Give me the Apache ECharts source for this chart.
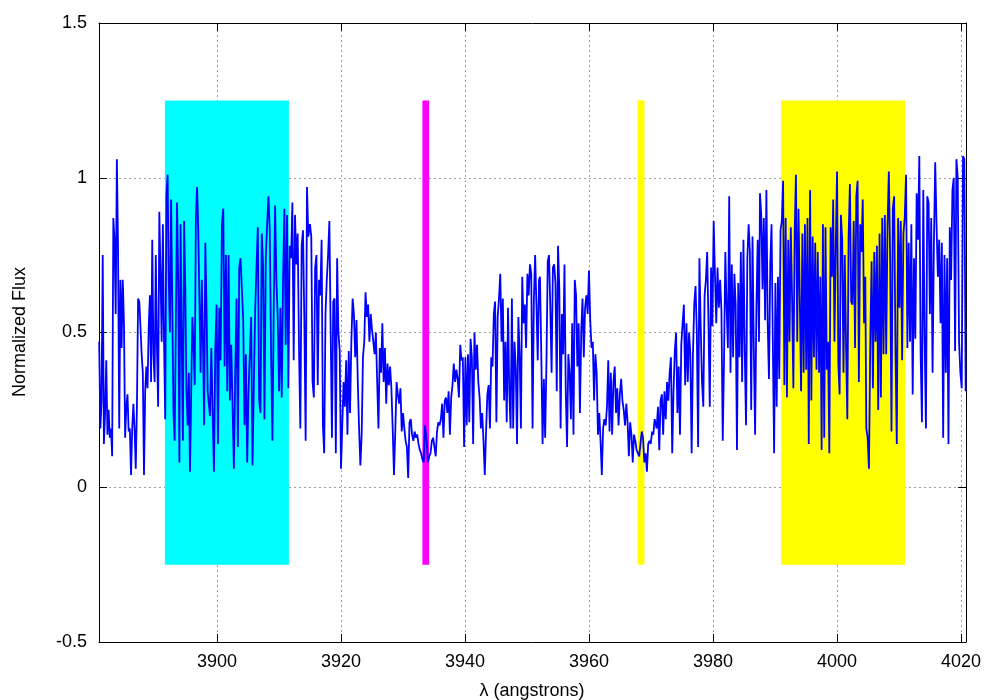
<!DOCTYPE html>
<html><head><meta charset="utf-8">
<script src="https://cdn.jsdelivr.net/npm/echarts@6/dist/echarts.min.js"></script>
<style>html,body{margin:0;padding:0;background:#fff}#c{width:1000px;height:700px}</style>
</head><body><div id="c"></div>
<script>
// ---- data ----
const xTicks = [3900, 3920, 3940, 3960, 3980, 4000, 4020];
const xMin = 3880.97, xMax = 4020.81;
// spectrum segments: wavelength span of each segment and the flux samples in it
const segStart = [3881.0, 3898.87, 3915.0, 3933.82, 3952.1, 3970.92, 3987.58, 4004.73];
const segEnd   = [3898.5, 3914.73, 3933.55, 3951.94, 3970.59, 3987.42, 4004.57, 4020.76];
const flux1 = [.47,.19,.28,.75,.14,.24,.41,.17,.25,.16,.19,.10,.87,.80,.56,1.06,.77,.19,.67,.45,
 .67,.53,.16,.26,.30,.18,.19,.04,.19,.27,.19,.06,.26,.61,.60,.52,.43,.37,.04,.31,
 .39,.32,.52,.62,.34,.80,.43,.34,.75,.45,.26,.89,.69,.47,.85,.47,.22,.94,1.01,.67,
 .50,.93,.58,.24,.15,.52,.92,.67,.08,.85,.47,.15,.86,.64,.31,.20,.37,.05,.30,.55,
 .46,.33,.87,.97,.83,.60,.37,.67,.47,.20,.79,.58,.31];
const flux2 = [.23,.45,.24,.05,.45,.59,.14,.58,.41,.85,.90,.39,.75,.31,.75,.28,.46,.26,.06,.37,
 .61,.13,.71,.74,.64,.54,.20,.43,.08,.31,.43,.55,.07,.33,.57,.71,.84,.28,.24,.82,
 .71,.22,.74,.85,.94,.83,.43,.15,.58,.91,.66,.55,.31,.58,.29,.67,.90,.46,.88,.32,
 .78,.74,.92,.41,.88,.72,.82,.45,.19,.78,.83,.54,.15,.97,.81];
const flux3 = [.85,.81,.34,.29,.71,.75,.33,.67,.62,.80,.20,.11,.56,.67,.75,.86,.51,.16,.60,.61,
 .11,.74,.50,.44,.06,.20,.34,.26,.41,.17,.44,.24,.47,.61,.56,.42,.54,.34,.19,.07,
 .17,.42,.47,.63,.55,.59,.47,.56,.51,.51,.43,.50,.34,.19,.45,.37,.53,.34,.45,.27,
 .40,.33,.39,.32,.19,.04,.18,.34,.30,.27,.32,.18,.24,.19,.15,.13,.03,.21,.22,.17,
 .15,.18,.16,.17,.14,.12,.11,.09,.08,.20];
const flux4 = [.15,.08,.10,.11,.15,.16,.16,.10,.18,.21,.20,.22,.27,.16,.28,.29,.24,.31,.17,.29,
 .33,.40,.34,.38,.35,.29,.46,.41,.42,.13,.42,.20,.43,.21,.48,.42,.14,.50,.38,.46,
 .34,.29,.19,.24,.15,.04,.18,.30,.33,.19,.42,.39,.56,.60,.21,.55,.61,.69,.47,.61,
 .28,.47,.21,.58,.31,.19,.61,.19,.47,.39,.14,.55,.43,.19,.68,.53,.59,.45,.69,.62,
 .72,.69,.19,.60,.75,.59,.41,.67];
const flux5 = [.68,.43,.14,.35,.16,.40,.73,.75,.58,.37,.71,.72,.66,.31,.78,.64,.19,.56,.43,.72,
 .31,.13,.43,.37,.22,.53,.17,.67,.62,.39,.53,.24,.50,.61,.42,.58,.62,.56,.70,.54,
 .45,.47,.28,.43,.37,.17,.24,.15,.04,.19,.22,.20,.26,.41,.18,.37,.17,.34,.39,.24,
 .32,.20,.30,.35,.28,.25,.20,.27,.21,.10,.21,.17,.08,.17,.15,.12,.11,.10,.10,.18,
 .16,.08,.11,.05,.14,.15,.14,.18,.17,.22];
const flux6 = [.19,.26,.12,.28,.30,.17,.31,.22,.34,.28,.37,.42,.11,.31,.44,.50,.24,.39,.17,.46,
 .53,.59,.33,.53,.34,.50,.43,.11,.43,.59,.65,.50,.13,.74,.52,.34,.26,.62,.67,.76,
 .53,.26,.71,.52,.86,.69,.53,.71,.58,.67,.57,.15,.41,.76,.58,.45,.94,.37,.72,.42,
 .69,.59,.12,.66,.42,.76,.34,.80,.44,.20,.74,.85,.76,.25,.81,.45,.17,.58,.80,.47];
const flux7 = [.95,.88,.64,.87,.54,.96,.53,.35,.72,.85,.47,.11,.66,.26,.68,.35,.83,.86,.99,.33,
 .87,.29,.80,.47,.84,.61,.32,.82,1.01,.47,.90,.61,.31,.82,.37,.85,.38,.87,.14,.96,
 .28,.81,.42,.79,.38,.76,.37,.68,.12,.85,.16,.84,.38,.47,.11,.84,.68,.93,.47,.78,
 1.02,.40,.30,.88,.80,.37,.75,.46,.22,.81,.98,.60,.59,.86,.45,.94,.99,.34,.85,.76,
 .93,.53,.68];
const flux8 = [.19,.16,.06,.47,.73,.32,.76,.47,.78,.25,.82,.29,.87,.43,.88,.43,.84,1.02,.74,.18,
 .90,.94,.45,.14,.87,.58,.86,.41,.82,.87,1.01,.45,.79,.47,.85,.30,.74,.48,.95,.80,
 1.07,.43,.21,.96,.49,.19,.94,.92,.56,.87,.37,.78,1.05,.85,.68,.80,.53,.79,.16,.75,
 .37,.74,.14,.84,.67,.96,1.00,.44,1.06,1.00,.47,.37,.32,1.07,1.06,.31];
// bandpasses: [lambda from, lambda to, flux bottom, flux top]
const bandLo  = [3891.6, 3933.13, 3967.85, 3991.0];
const bandHi  = [3911.6, 3934.22, 3968.94, 4011.0];
const bandBot = [-0.25, -0.25, -0.25, -0.25];
const bandTop = [1.25, 1.25, 1.25, 1.25];
const bandColor = ['#00ffff', '#ff00ff', '#ffff00', '#ffff00'];

// ---- build ----
const fluxSegs = [flux1, flux2, flux3, flux4, flux5, flux6, flux7, flux8];
const spectrum = [];
fluxSegs.forEach((arr, s) => {
  const n = arr.length;
  for (let i = 0; i < n; i++) {
    spectrum.push([segStart[s] + i * (segEnd[s] - segStart[s]) / (n - 1), arr[i]]);
  }
});
const bands = bandLo.map((v, i) => [v, bandHi[i], bandBot[i], bandTop[i]]);

const FONT = '"Liberation Sans", Arial, Helvetica, sans-serif';
const FS = 18;
const gridStyle = { color: '#a0a0a0', width: 1, type: [2, 3] };
const axisBase = {
  type: 'value', min: xMin, max: xMax,
  axisLine: { show: true, onZero: false, lineStyle: { color: '#000', width: 1 } },
  axisTick: { show: true, inside: true, length: 8, customValues: xTicks, lineStyle: { color: '#000' } },
  splitLine: { show: false }
};

const chart = echarts.init(document.getElementById('c'));
chart.setOption({
  animation: false,
  backgroundColor: '#fff',
  grid: { left: 99, right: 34, top: 23, bottom: 58, containLabel: false },
  xAxis: [
    Object.assign({}, axisBase, { position: 'bottom',
      axisLabel: { show: true, customValues: xTicks, margin: 11, color: '#000', fontSize: FS, fontFamily: FONT,
        formatter: v => String(v) } }),
    Object.assign({}, axisBase, { position: 'top', axisLabel: { show: false } })
  ],
  yAxis: [
    { type: 'value', min: -0.5, max: 1.5, interval: 0.5, position: 'left',
      axisLine: { show: true, onZero: false, lineStyle: { color: '#000', width: 1 } },
      axisTick: { show: true, inside: true, length: 8, lineStyle: { color: '#000' } },
      axisLabel: { margin: 12, color: '#000', fontSize: FS, fontFamily: FONT, formatter: v => String(v) },
      splitLine: { show: true, lineStyle: gridStyle } },
    { type: 'value', min: -0.5, max: 1.5, interval: 0.5, position: 'right',
      axisLine: { show: true, onZero: false, lineStyle: { color: '#000', width: 1 } },
      axisTick: { show: true, inside: true, length: 8, lineStyle: { color: '#000' } },
      axisLabel: { show: false }, splitLine: { show: false } }
  ],
  series: [
    { type: 'line', data: [], z: 0, silent: true,
      markLine: { z: 0, silent: true, symbol: ['none', 'none'], label: { show: false },
        lineStyle: gridStyle, data: xTicks.map(v => ({ xAxis: v })) } },
    { type: 'custom', z: 1, silent: true, data: bands,
      encode: { x: [0, 1], y: [2, 3] },
      renderItem: function (params, api) {
        const p0 = api.coord([api.value(0), api.value(3)]);
        const p1 = api.coord([api.value(1), api.value(2)]);
        return { type: 'rect', shape: { x: p0[0], y: p0[1], width: p1[0] - p0[0], height: p1[1] - p0[1] },
          style: { fill: bandColor[params.dataIndex] } };
      } },
    { type: 'line', z: 3, data: spectrum, showSymbol: false, symbol: 'none',
      lineStyle: { color: '#0000ff', width: 1.8 }, sampling: null, silent: true }
  ],
  graphic: [
    { type: 'text', x: 532, y: 691, style: { text: 'λ (angstrons)', fill: '#000', font: FS + 'px ' + FONT, textAlign: 'center', textVerticalAlign: 'middle' } },
    { type: 'text', x: 20, y: 332, rotation: Math.PI / 2, style: { text: 'Normalized Flux', fill: '#000', font: FS + 'px ' + FONT, textAlign: 'center', textVerticalAlign: 'middle' } }
  ]
});
</script></body></html>
